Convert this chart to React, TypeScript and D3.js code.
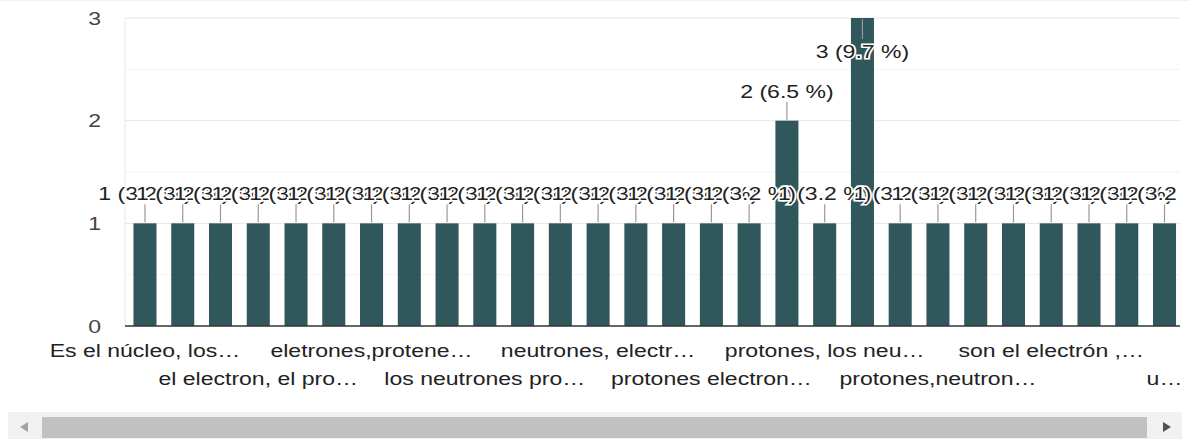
import React, { useEffect, useRef } from "react";
import * as d3 from "d3";

// answers (only every third label is visible in the picture, the rest are hidden by the axis)
const categories: string[] = [
  "Es el núcleo, los…", "", "", "el electron, el pro…", "", "",
  "eletrones,protene…", "", "", "los neutrones pro…", "", "",
  "neutrones, electr…", "", "", "protones electron…", "", "",
  "protones, los neu…", "", "", "protones,neutron…", "", "",
  "son el electrón ,…", "", "", "u…",
];
const counts: number[] = [
  1, 1, 1, 1, 1, 1, 1, 1, 1, 1, 1, 1, 1, 1,
  1, 1, 1, 2, 1, 3, 1, 1, 1, 1, 1, 1, 1, 1,
];
const yTicks: number[] = [0, 1, 2, 3];
const yMinor: number[] = [0.5, 1.5, 2.5];

const W = 1189;
const H = 440;
const FONT = "'Liberation Sans', Arial, sans-serif";
const SX = 1.28; // the picture's text is stretched horizontally

const App = () => {
  const ref = useRef<SVGSVGElement>(null);

  useEffect(() => {
    draw();
  });

  const draw = () => {
    const svg = d3.select(ref.current);
    svg.selectAll("*").remove();

    const left = 125;
    const clipRight = 1180;
    const total = d3.sum(counts);

    const x = d3
      .scaleBand<number>()
      .domain(counts.map((_, i) => i))
      .range([126.1, 1183.4])
      .paddingInner(0.39)
      .paddingOuter(0.195);

    const y = d3.scaleLinear().domain([0, 3]).range([326, 18]);

    svg
      .append("defs")
      .append("clipPath")
      .attr("id", "plotclip")
      .append("rect")
      .attr("x", 0)
      .attr("y", 0)
      .attr("width", clipRight)
      .attr("height", H);

    // faint top border
    svg
      .append("line")
      .attr("x1", 0)
      .attr("x2", W)
      .attr("y1", 0.5)
      .attr("y2", 0.5)
      .attr("stroke", "#f2f2f2");

    const g = svg.append("g").attr("clip-path", "url(#plotclip)");

    // gridlines
    g.selectAll(".minor")
      .data(yMinor)
      .enter()
      .append("line")
      .attr("x1", left)
      .attr("x2", clipRight)
      .attr("y1", (d) => y(d))
      .attr("y2", (d) => y(d))
      .attr("stroke", "#f2f2f2")
      .attr("stroke-width", 1);

    g.selectAll(".major")
      .data(yTicks.slice(1))
      .enter()
      .append("line")
      .attr("x1", left)
      .attr("x2", clipRight)
      .attr("y1", (d) => y(d))
      .attr("y2", (d) => y(d))
      .attr("stroke", "#e6e6e6")
      .attr("stroke-width", 1);

    g.append("line")
      .attr("x1", left)
      .attr("x2", left)
      .attr("y1", y(3))
      .attr("y2", y(0))
      .attr("stroke", "#e6e6e6");

    // bars
    g.selectAll(".bar")
      .data(counts)
      .enter()
      .append("rect")
      .attr("x", (_, i) => x(i) as number)
      .attr("width", x.bandwidth())
      .attr("y", (d) => y(d))
      .attr("height", (d) => y(0) - y(d))
      .attr("fill", "#30575b");

    // baseline
    g.append("line")
      .attr("x1", left)
      .attr("x2", clipRight)
      .attr("y1", y(0))
      .attr("y2", y(0))
      .attr("stroke", "#333")
      .attr("stroke-width", 1.5);

    // annotations
    counts.forEach((d, i) => {
      const cx = (x(i) as number) + x.bandwidth() / 2;
      const inside = d === 3;
      const top = y(d);
      const y1 = inside ? top + 1 : top - 19;
      const y2 = inside ? top + 21 : top - 1;
      const ty = inside ? top + 40 : top - 23;
      const label = `${d} (${((d / total) * 100).toFixed(1)} %)`;

      g.append("text")
        .attr("transform", `translate(${cx},${ty}) scale(${SX},1)`)
        .attr("text-anchor", "middle")
        .attr("font-family", FONT)
        .attr("font-size", 18)
        .attr("fill", "#222")
        .attr("stroke", "#fff")
        .attr("stroke-width", 3)
        .attr("paint-order", "stroke")
        .text(label);

      g.append("line")
        .attr("x1", cx)
        .attr("x2", cx)
        .attr("y1", y1)
        .attr("y2", y2)
        .attr("stroke", "#999")
        .attr("stroke-width", 1.2);
    });

    // x labels, two rows
    categories.forEach((c, i) => {
      if (!c) return;
      const cx = (x(i) as number) + x.bandwidth() / 2;
      const row = Math.floor(i / 3) % 2;
      g.append("text")
        .attr("transform", `translate(${cx},${row === 0 ? 357 : 385}) scale(${SX},1)`)
        .attr("text-anchor", "middle")
        .attr("font-family", FONT)
        .attr("font-size", 18)
        .attr("fill", "#222")
        .text(c);
    });

    // y ticks
    svg
      .selectAll(".ytick")
      .data(yTicks)
      .enter()
      .append("text")
      .attr("transform", (d) => `translate(101,${y(d) + 6.5}) scale(${SX},1)`)
      .attr("text-anchor", "end")
      .attr("font-family", FONT)
      .attr("font-size", 18)
      .attr("fill", "#444")
      .text((d) => d);

    // scrollbar
    const sb = svg.append("g");
    sb.append("rect")
      .attr("x", 8)
      .attr("y", 412)
      .attr("width", 1174)
      .attr("height", 27)
      .attr("fill", "#f1f1f1");
    sb.append("rect")
      .attr("x", 42)
      .attr("y", 417)
      .attr("width", 1105)
      .attr("height", 21)
      .attr("fill", "#c1c1c1");
    sb.append("path")
      .attr("d", "M20,427 L28,422 L28,432 Z")
      .attr("fill", "#a3a3a3");
    sb.append("path")
      .attr("d", "M1171,427 L1163,422 L1163,432 Z")
      .attr("fill", "#505050");
  };

  return (
    <svg
      ref={ref}
      width={W}
      height={H}
      style={{ position: "absolute", left: 0, top: 0, background: "#fff" }}
    />
  );
};

export default App;
